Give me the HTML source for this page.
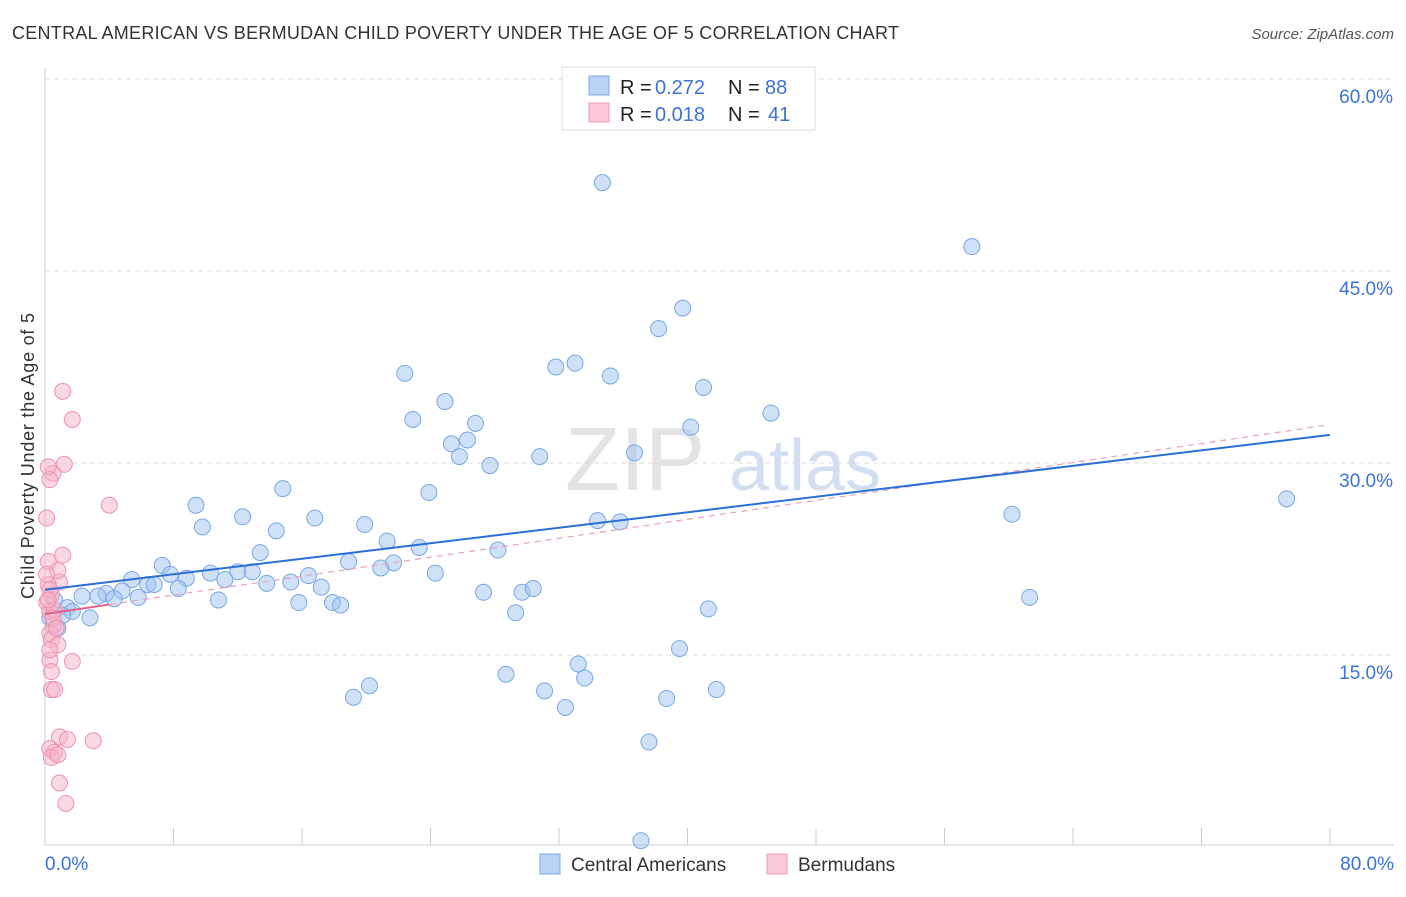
<!DOCTYPE html>
<html><head><meta charset="utf-8"><style>
body{margin:0;background:#fff;font-family:"Liberation Sans",sans-serif;}
svg text{font-family:"Liberation Sans",sans-serif;}
</style></head><body>
<svg id="chart" width="1406" height="892" xmlns="http://www.w3.org/2000/svg">
<text x="12" y="39" font-size="18" fill="#333" textLength="887">CENTRAL AMERICAN VS BERMUDAN CHILD POVERTY UNDER THE AGE OF 5 CORRELATION CHART</text>
<text x="1394" y="39" font-size="15" fill="#555" font-style="italic" text-anchor="end">Source: ZipAtlas.com</text>
<g>
<text x="635" y="490" font-size="90" fill="#ddd" font-family="Liberation Serif" text-anchor="middle" opacity="0.8">ZIP</text>
<text x="805" y="490" font-size="72" fill="#c8d8ee" text-anchor="middle" opacity="0.8">atlas</text>
</g>
<g id="grid"></g><g id="axes"></g><g id="marks"></g>
<text transform="translate(34,456) rotate(-90)" font-size="18" fill="#333" text-anchor="middle" textLength="286">Child Poverty Under the Age of 5</text>
<g>
<rect x="562" y="67" width="253" height="63" fill="#fff" stroke="#ddd"/>
<rect x="589" y="76" width="20" height="19" fill="#b9d3f5" stroke="#7eaae6"/>
<rect x="589" y="103" width="20" height="19" fill="#fbc9d8" stroke="#ee9cb6"/>
<text y="94" font-size="20" fill="#222"><tspan x="620">R =</tspan><tspan x="655" fill="#3b73d6">0.272</tspan><tspan x="728">N =</tspan><tspan x="765" fill="#3b73d6">88</tspan></text>
<text y="121" font-size="20" fill="#222"><tspan x="620">R =</tspan><tspan x="655" fill="#3b73d6">0.018</tspan><tspan x="728">N =</tspan><tspan x="768" fill="#3b73d6">41</tspan></text>
</g>
<g>
<rect x="540" y="854" width="20" height="20" fill="#b9d3f5" stroke="#7eaae6"/>
<text x="571" y="871" font-size="19" fill="#333">Central Americans</text>
<rect x="767" y="854" width="20" height="20" fill="#fbc9d8" stroke="#ee9cb6"/>
<text x="798" y="871" font-size="19" fill="#333">Bermudans</text>
</g>
</svg>
<script>
const blueX=[34.7,57.7,39.7,38.2,33.0,31.8,22.4,35.2,41.0,24.9,45.2,22.9,26.8,40.2,26.3,25.3,25.8,30.8,36.7,27.7,23.9,14.8,9.4,77.3,60.2,12.3,16.8,9.8,19.9,34.4,35.8,14.4,21.3,23.3,28.2,13.4,7.3,18.9,21.7,20.9,7.8,8.8,5.4,10.3,12.0,12.9,16.4,24.3,15.3,13.8,6.4,6.8,8.3,11.2,17.2,4.8,3.8,3.3,4.3,5.8,27.3,29.7,30.4,10.8,15.8,17.9,18.4,61.3,41.3,29.3,0.6,2.3,1.4,1.7,1.1,2.8,0.3,0.8,39.5,33.2,28.7,33.6,41.8,20.2,31.1,19.2,38.7,32.4,37.6,37.1];
const blueY=[51.9,46.9,42.1,40.5,37.8,37.5,37.0,36.8,35.9,34.8,33.9,33.4,33.1,32.8,31.8,31.5,30.5,30.5,30.8,29.8,27.7,28.0,26.7,27.2,26.0,25.8,25.7,25.0,25.2,25.5,25.4,24.7,23.9,23.4,23.2,23.0,22.0,22.3,22.2,21.8,21.3,21.0,20.9,21.4,21.5,21.5,21.2,21.4,20.7,20.6,20.5,20.5,20.2,20.9,20.3,20.0,19.8,19.6,19.4,19.5,19.9,19.9,20.2,19.3,19.1,19.1,18.9,19.5,18.6,18.3,19.3,19.6,18.7,18.4,18.1,17.9,17.9,17.1,15.5,14.3,13.5,13.2,12.3,12.6,12.2,11.7,11.6,10.9,8.2,0.5];
const pinkX=[1.1,1.7,1.2,0.5,0.2,0.3,4.0,0.1,1.1,0.2,0.9,0.2,0.4,0.1,0.3,0.6,0.5,0.3,0.4,0.8,0.3,1.7,0.4,0.6,0.9,1.4,3.0,0.3,0.6,0.4,0.8,0.9,1.3,0.3,0.2,0.5,0.7,0.8,0.1,0.3,0.4];
const pinkY=[35.6,33.4,29.9,29.2,29.7,28.7,26.7,25.7,22.8,22.3,20.7,20.5,19.7,19.1,18.4,18.5,17.3,16.7,16.2,15.8,14.6,14.5,12.3,12.3,8.6,8.4,8.3,7.7,7.4,7.0,7.2,5.0,3.4,20.1,19.3,17.9,17.1,21.6,21.3,15.4,13.7];
const blueTrend=[20.1,32.2];
const pinkTrend=[18.2,33.0];
const yTicks=[15,30,45,60];
const xTickLabels=["0.0%","80.0%"];

const NS="http://www.w3.org/2000/svg";
const X=v=>45+v*1285/80, Y=v=>847-v*12.8;
function mk(p,t,a){const e=document.createElementNS(NS,t);for(const k in a)e.setAttribute(k,a[k]);p.appendChild(e);return e;}
const grid=document.getElementById('grid'),axes=document.getElementById('axes'),marks=document.getElementById('marks');
yTicks.forEach(t=>{
 const l=mk(grid,'line',{x1:45,x2:1394,y1:Y(t),y2:Y(t),stroke:'#ddd','stroke-dasharray':'5,4'});
 
 
 const tx=mk(axes,'text',{x:1393,y:Y(t)+24,'font-size':19,fill:'#3b73d6','text-anchor':'end'});
 tx.textContent=t.toFixed(1)+'%';
 
 
});
let a=mk(axes,'line',{x1:45,x2:45,y1:68,y2:845,stroke:'#ccc'});


a=mk(axes,'line',{x1:45,x2:1394,y1:845,y2:845,stroke:'#ccc'});


for(let i=0;i<=10;i++){
 const tk=mk(axes,'line',{x1:X(i*8),x2:X(i*8),y1:828,y2:845,stroke:'#ccc'});
 
 
}
[[0,'start',45],[80,'end',1394]].forEach((d,i)=>{
 const tx=mk(axes,'text',{x:d[2],y:870,'font-size':19,fill:'#3b73d6','text-anchor':d[1]});
 tx.textContent=xTickLabels[i];
 
 
});
blueX.forEach((x,i)=>{
 const c=mk(marks,'circle',{cx:X(x),cy:Y(blueY[i]),r:8,fill:'rgba(160,196,240,0.5)',stroke:'#7aa7e4','stroke-width':1});
 
 
});
pinkX.forEach((x,i)=>{
 const c=mk(marks,'circle',{cx:X(x),cy:Y(pinkY[i]),r:8,fill:'rgba(246,178,200,0.5)',stroke:'#ec92b0','stroke-width':1});
 
 
});
let l=mk(marks,'line',{x1:X(0),y1:Y(pinkTrend[0]),x2:X(79.7),y2:Y(pinkTrend[0]+(pinkTrend[1]-pinkTrend[0])*79.7/80),stroke:'#e9a0b8','stroke-width':1.2,'stroke-dasharray':'6,5'});


l=mk(marks,'line',{x1:X(0),y1:Y(pinkTrend[0]),x2:X(4),y2:Y(pinkTrend[0]+(pinkTrend[1]-pinkTrend[0])*4/80),stroke:'#e0608a','stroke-width':2});


l=mk(marks,'line',{x1:X(0),y1:Y(blueTrend[0]),x2:X(80),y2:Y(blueTrend[1]),stroke:'#2a6fd6','stroke-width':2});


</script>
</body></html>
